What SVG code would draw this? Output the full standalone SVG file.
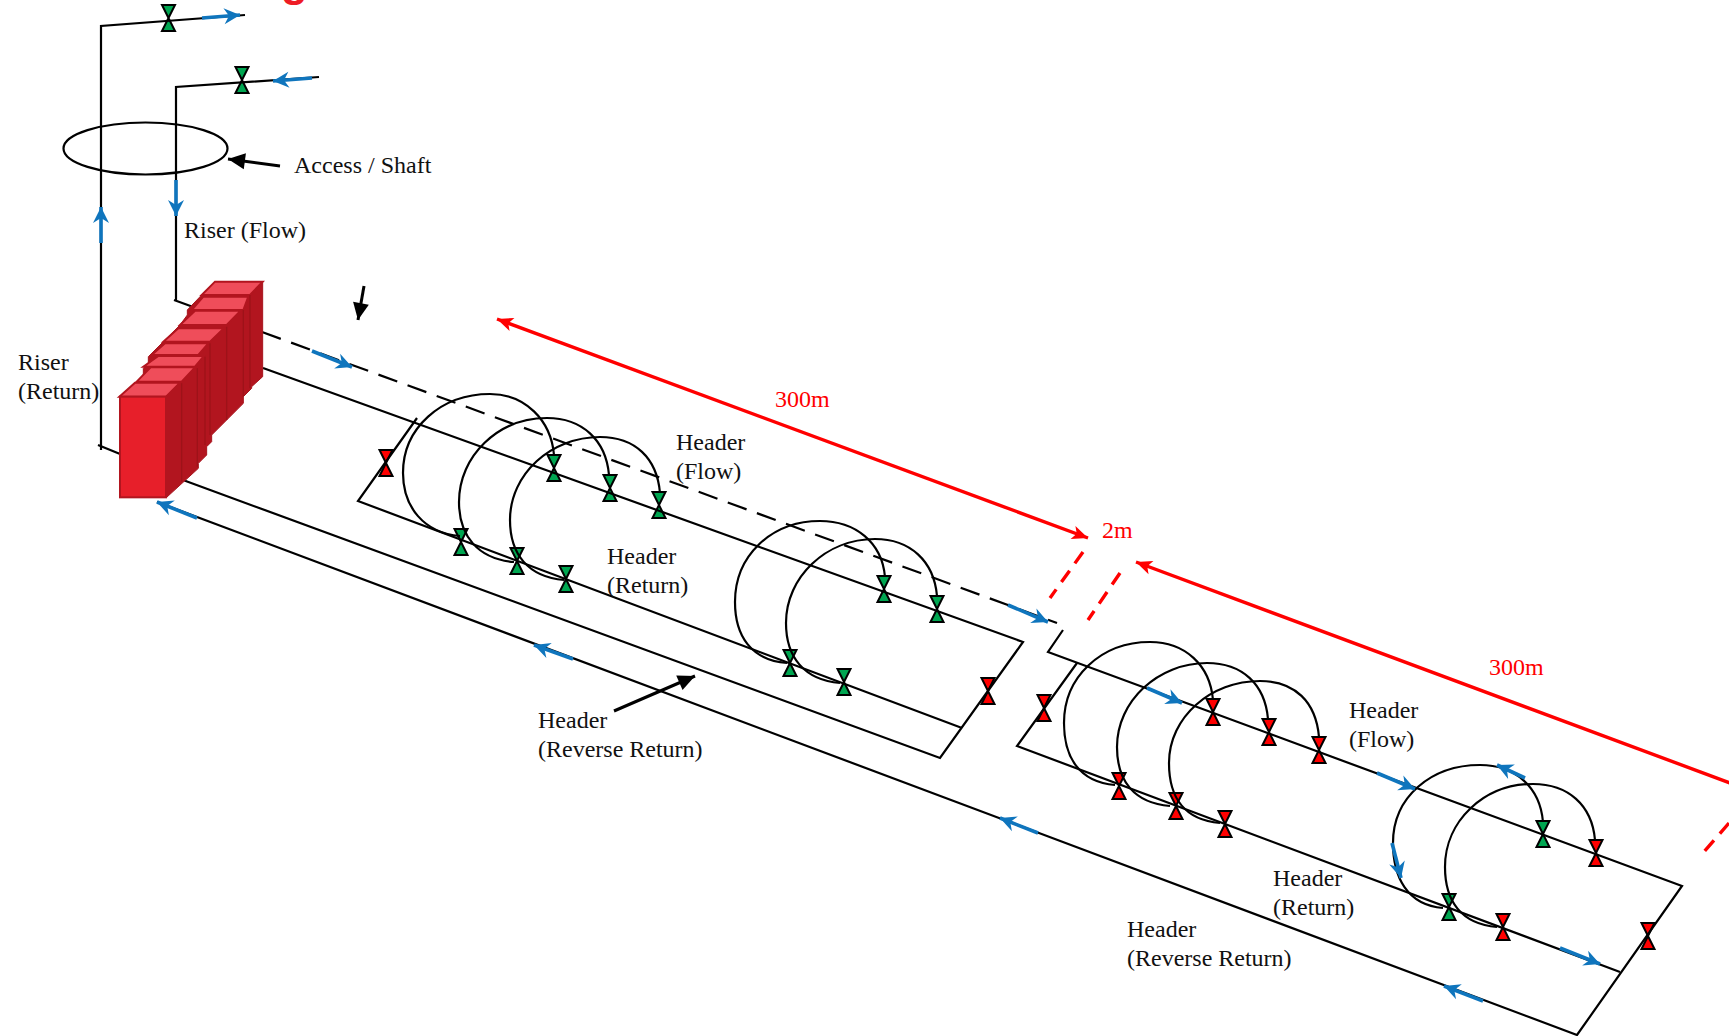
<svg xmlns="http://www.w3.org/2000/svg" width="1729" height="1036" viewBox="0 0 1729 1036">
<style>
.l{fill:none;stroke:#000;stroke-width:2.2}
.b{fill:none;stroke:#0f75bd;stroke-width:3.6;marker-end:url(#blue)}
.k{fill:none;stroke:#000;stroke-width:3;marker-end:url(#black)}
.r{fill:none;stroke:#f00;stroke-width:3.4;marker-end:url(#red);marker-start:url(#redS)}
.rd{fill:none;stroke:#f00;stroke-width:3.4;stroke-dasharray:14 9}
.t{font-family:"Liberation Serif","Times New Roman",serif;font-size:24px;fill:#111}
.tr{font-family:"Liberation Serif","Times New Roman",serif;font-size:24px;fill:#f00}
.vg{fill:#00a651;stroke:#000;stroke-width:2}
.vr{fill:#f00;stroke:#000;stroke-width:2}
.f{fill:#e71f2a;stroke:#b2151f;stroke-width:6}
.s{fill:#b2151f;stroke:#a8141d;stroke-width:3}
.p{fill:#ef4d5a;stroke:#b2151f;stroke-width:6}
.seam{fill:none;stroke:#9e1219;stroke-width:4}
</style>
<defs>
<marker id="blue" markerUnits="userSpaceOnUse" markerWidth="20" markerHeight="20" refX="18" refY="10" orient="auto"><path d="M18,10 L2,2 L7,10 L2,18Z" fill="#0f75bd"/></marker>
<marker id="black" markerUnits="userSpaceOnUse" markerWidth="20" markerHeight="20" refX="18" refY="10" orient="auto"><path d="M18,10 L1,2 L1,18Z" fill="#000"/></marker>
<marker id="red" markerUnits="userSpaceOnUse" markerWidth="20" markerHeight="20" refX="18" refY="10" orient="auto"><path d="M18,10 L2,3 L6,10 L2,17Z" fill="#f00"/></marker>
<marker id="redS" markerUnits="userSpaceOnUse" markerWidth="20" markerHeight="20" refX="2" refY="10" orient="auto"><path d="M2,10 L18,3 L14,10 L18,17Z" fill="#f00"/></marker>
<path id="v" d="M-6.5,-13 H6.5 L-6.5,13 H6.5Z"/>
</defs>
<text x="281" y="-4" font-family="Liberation Sans,Arial,sans-serif" font-weight="700" font-size="44" fill="#ee1c25">g</text>
<g id="valves">
<g class="vg"><use href="#v" x="168.5" y="18"/><use href="#v" x="242" y="80"/></g>
<g class="vg"><use href="#v" x="554" y="468"/><use href="#v" x="610" y="488"/><use href="#v" x="659" y="505"/><use href="#v" x="461" y="542"/><use href="#v" x="517" y="561"/><use href="#v" x="566" y="579"/><use href="#v" x="884" y="589"/><use href="#v" x="937" y="609"/><use href="#v" x="790" y="663"/><use href="#v" x="844" y="682"/><use href="#v" x="1543" y="834"/><use href="#v" x="1449" y="907"/></g>
<g class="vr"><use href="#v" x="386" y="463"/><use href="#v" x="988" y="691"/><use href="#v" x="1044" y="708"/><use href="#v" x="1213" y="712"/><use href="#v" x="1269" y="732"/><use href="#v" x="1319" y="750"/><use href="#v" x="1119" y="786"/><use href="#v" x="1176" y="806"/><use href="#v" x="1225" y="824"/><use href="#v" x="1596" y="853"/><use href="#v" x="1503" y="927"/><use href="#v" x="1648" y="936"/></g>
</g>
<g id="connectors">
<path class="l" d="M101,450 V26 L245,15"/>
<path class="l" d="M176,300 V87 L319,77"/>
<path class="l" d="M98,445 L125,456"/>
<path class="l" d="M174,300 L262,332" />
<path class="l" stroke-dasharray="20 11" d="M262,332 L1057,623"/>
<path class="l" d="M263,368 L1023,642 L940,758 L183,480"/>
<path class="l" d="M417,418 L358,501 L962,728"/>
<path class="l" d="M157,502 L1577,1035 L1682,886 L1048,652 L1063,630"/>
<path class="l" d="M1077,663 L1017,746 L1620,972"/>
<g id="arcs">
<path class="l" d="M554,455 C551,420 525,394 490,394 C441,394 403,428 403,473 C403,507 424,533 460,536"/>
<path class="l" d="M609,475 C606,440 582,418 547,418 C498,418 459,456 459,502 C459,536 478,559 514,562"/>
<path class="l" d="M660,493 C657,458 635,437 600,437 C551,437 510,474 510,520 C510,554 528,577 564,580"/>
<path class="l" d="M885,577 C882,542 855,521 820,521 C771,521 735,556 735,602 C735,636 751,660 787,663"/>
<path class="l" d="M937,596 C934,561 910,539 875,539 C826,539 786,577 786,623 C786,657 804,680 840,683"/>
<path class="l" d="M1213,700 C1210,665 1185,642 1150,642 C1101,642 1064,677 1064,723 C1064,757 1079,782 1115,785"/>
<path class="l" d="M1268,719 C1265,684 1242,663 1207,663 C1158,663 1117,701 1117,747 C1117,781 1134,803 1170,806"/>
<path class="l" d="M1319,737 C1316,702 1295,681 1260,681 C1211,681 1169,717 1169,763 C1169,797 1184,820 1220,823"/>
<path class="l" d="M1543,822 C1540,787 1515,765 1480,765 C1431,765 1393,797 1393,843 C1393,877 1407,905 1443,908"/>
<path class="l" d="M1595,840 C1592,805 1568,784 1533,784 C1484,784 1445,821 1445,867 C1445,901 1461,924 1497,927"/>
</g>
<path class="b" d="M202,18 L240,15"/>
<path class="b" d="M312,78 L273,81"/>
<path class="b" d="M176,180 V216"/>
<path class="b" d="M101,243 V207"/>
<path class="b" d="M312,351 L352,367"/>
<path class="b" d="M1008,605 L1048,622"/>
<path class="b" d="M197,518 L157,502"/>
<path class="b" d="M573,659 L534,645"/>
<path class="b" d="M1038,833 L1000,818"/>
<path class="b" d="M1147,688 L1182,703"/>
<path class="b" d="M1377,773 L1415,789"/>
<path class="b" d="M1525,778 L1497,765"/>
<path class="b" d="M1392,843 L1401,878"/>
<path class="b" d="M1560,948 L1600,964"/>
<path class="b" d="M1483,1001 L1444,986"/>
<path class="k" d="M280,166 L228,159"/>
<path class="k" d="M364,286 L358,320"/>
<path class="k" d="M614,711 L695,676"/>
<path class="r" d="M497,319 L1088,538"/>
<path class="r" d="M1136,562 L1765,796"/>
<path class="rd" d="M1083,552 L1050,598"/>
<path class="rd" d="M1120,573 L1088,620"/>
<path class="rd" d="M1729,823 L1703,853"/>
</g>
<ellipse id="access-shaft" cx="145.5" cy="148.5" rx="82" ry="26" fill="none" stroke="#000" stroke-width="2.2"/>
<g id="blocks" transform="translate(80 260) scale(.33333)">
<path class="s" d="M118,410 L170,365 L190,345 L190,325 L205,310 L205,290 L250,245 L300,195 L322,165 L322,150 L365,105 L405,65 L548,65 V350 L515,380 V385 L490,410 V430 L395,525 V545 L380,560 V585 L355,610 V625 L260,712Z"/>
<path class="p" d="M365,105 H510 L548,65 H405Z"/>
<path class="p" d="M335,150 H490 L505,110 H370Z"/>
<path class="p" d="M300,195 H440 L482,152 H345Z"/>
<path class="p" d="M250,245 H390 L432,205 H295Z"/>
<path class="p" d="M215,285 H355 L385,250 H255Z"/>
<path class="p" d="M190,320 H345 L372,288 H235Z"/>
<path class="p" d="M170,365 H305 L345,322 H212Z"/>
<path class="p" d="M118,410 H258 L300,368 H165Z"/>
<path class="seam" d="M510,105 V385 M490,150 V410 M440,200 V480 M390,250 V525 M375,290 V555 M352,325 V620 M305,370 V665"/>
<rect class="f" x="120" y="410" width="138" height="302"/>
</g>
<g id="labels">
<text class="t" x="294" y="173">Access / Shaft</text>
<text class="t" x="184" y="238">Riser (Flow)</text>
<text class="t" x="18" y="370">Riser</text><text class="t" x="18" y="399">(Return)</text>
<text class="t" x="676" y="450">Header</text><text class="t" x="676" y="479">(Flow)</text>
<text class="t" x="607" y="564">Header</text><text class="t" x="607" y="593">(Return)</text>
<text class="t" x="538" y="728">Header</text><text class="t" x="538" y="757">(Reverse Return)</text>
<text class="t" x="1349" y="718">Header</text><text class="t" x="1349" y="747">(Flow)</text>
<text class="t" x="1273" y="886">Header</text><text class="t" x="1273" y="915">(Return)</text>
<text class="t" x="1127" y="937">Header</text><text class="t" x="1127" y="966">(Reverse Return)</text>
<text class="tr" x="775" y="407">300m</text>
<text class="tr" x="1102" y="538">2m</text>
<text class="tr" x="1489" y="675">300m</text>
</g>
</svg>
